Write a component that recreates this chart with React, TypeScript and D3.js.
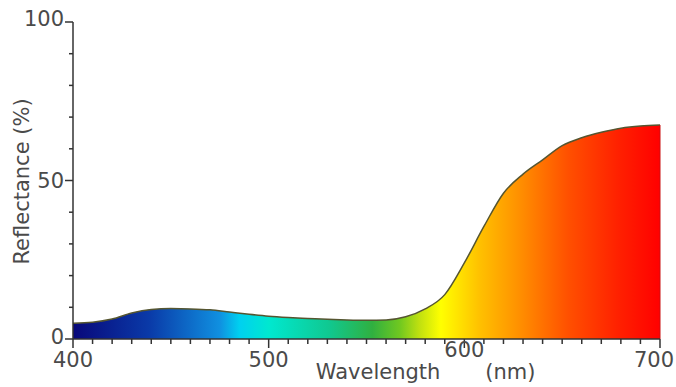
import React from 'react';
import * as d3 from 'd3';

const width = 676;
const height = 387;

// reflectance spectrum
const wavelengths = [400, 410, 420, 430, 440, 450, 460, 470, 480, 490, 500, 510, 520, 530, 540, 550, 560, 570, 580, 590, 600, 610, 620, 630, 640, 650, 660, 670, 680, 690, 700];
const reflectance = [5.0, 5.3, 6.3, 8.2, 9.3, 9.6, 9.5, 9.2, 8.5, 7.8, 7.2, 6.8, 6.5, 6.2, 6.0, 5.9, 6.0, 7.0, 9.5, 14, 24, 35.5, 46, 52, 56.5, 61, 63.5, 65.2, 66.5, 67.2, 67.5];

const xTickLabels = [400, 500, 600, 700];
const yTickLabels = [0, 50, 100];

// spectrum colours along the x axis
const gradientStops = [
  { nm: 400, color: '#08087a' },
  { nm: 439, color: '#0a3aa8' },
  { nm: 475, color: '#1090e0' },
  { nm: 485, color: '#00d0f0' },
  { nm: 500, color: '#00e8d0' },
  { nm: 531, color: '#10c890' },
  { nm: 553, color: '#30b040' },
  { nm: 567, color: '#70c820' },
  { nm: 577, color: '#c0e010' },
  { nm: 588, color: '#ffff00' },
  { nm: 608, color: '#ffc000' },
  { nm: 628, color: '#ff9000' },
  { nm: 653, color: '#ff5000' },
  { nm: 679, color: '#ff2000' },
  { nm: 700, color: '#ff0000' },
];

const font = 'DejaVu Sans';
const textColor = '#4a4a4a';
const axisColor = '#333';

export default function App() {
  const x = d3.scaleLinear().domain([400, 700]).range([73, 660]);
  const y = d3.scaleLinear().domain([0, 100]).range([339, 22]);

  const data = wavelengths.map((w, i) => ({ w, r: reflectance[i] }));

  const area = d3.area<{ w: number; r: number }>()
    .x(d => x(d.w))
    .y0(y(0))
    .y1(d => y(d.r))
    .curve(d3.curveMonotoneX);

  const line = d3.line<{ w: number; r: number }>()
    .x(d => x(d.w))
    .y(d => y(d.r))
    .curve(d3.curveMonotoneX);

  const xMinor = d3.range(400, 701, 10);
  const yMinor = d3.range(0, 101, 10);

  return (
    <svg width={width} height={height} style={{ position: 'absolute', left: 0, top: 0, background: '#fff' }}>
      <defs>
        <linearGradient id="spectrum" gradientUnits="userSpaceOnUse" x1={x(400)} x2={x(700)} y1={0} y2={0}>
          {gradientStops.map((s, i) => (
            <stop key={i} offset={(s.nm - 400) / 300} stopColor={s.color} />
          ))}
        </linearGradient>
      </defs>

      <path d={area(data) || ''} fill="url(#spectrum)" />
      <path d={line(data) || ''} fill="none" stroke="#555530" strokeWidth="1.5" />
      <line x1={x(700)} x2={x(700)} y1={y(67.5)} y2={y(0)} stroke="#cc1010" strokeWidth="1" />

      {/* y axis */}
      <line x1={x(400)} x2={x(400)} y1={y(100)} y2={y(0)} stroke={axisColor} strokeWidth="1.5" />
      {yMinor.map(v => (
        <line key={v} x1={x(400) - (v % 50 === 0 ? 8 : 4)} x2={x(400)} y1={y(v)} y2={y(v)} stroke={axisColor} strokeWidth="1.5" />
      ))}
      {yTickLabels.map(v => (
        <text key={v} x={x(400) - 9} y={y(v) + (v === 100 ? -3 : v === 0 ? -2 : 0)} textAnchor="end" dominantBaseline="central"
          fontFamily={font} fontSize="21" fill={textColor}>{v}</text>
      ))}
      <text transform={`translate(29, ${(y(0) + y(100)) / 2 + 1}) rotate(-90)`} textAnchor="middle"
        fontFamily={font} fontSize="21" fill={textColor}>Reflectance (%)</text>

      {/* x axis */}
      <line x1={x(400)} x2={x(700)} y1={y(0)} y2={y(0)} stroke={axisColor} strokeWidth="1.5" />
      {xMinor.map(v => (
        <line key={v} x1={x(v)} x2={x(v)} y1={y(0)} y2={y(0) + (v % 100 === 0 ? 9 : 5)} stroke={axisColor} strokeWidth="1.5" />
      ))}
      {xTickLabels.map(v => (
        <text key={v} x={v === 700 ? width - 2 : x(v)} y={v === 600 ? 357 : 367}
          textAnchor={v === 700 ? 'end' : 'middle'} fontFamily={font} fontSize="21" fill={textColor}>{v}</text>
      ))}
      <text x={x(600) - 24} y={379} textAnchor="end" fontFamily={font} fontSize="21" fill={textColor}>Wavelength</text>
      <text x={x(600) + 21} y={379} textAnchor="start" fontFamily={font} fontSize="21" fill={textColor}>(nm)</text>
    </svg>
  );
}
